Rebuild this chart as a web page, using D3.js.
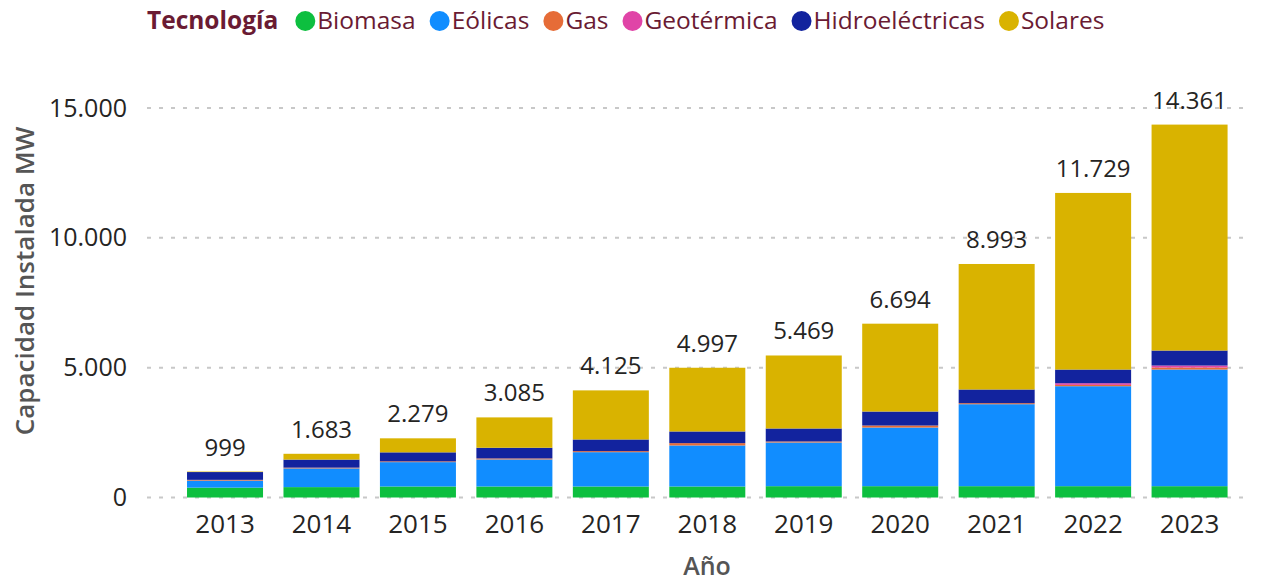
<!DOCTYPE html>
<html><head><meta charset="utf-8">
<script src="https://cdn.jsdelivr.net/npm/d3@7"></script>
<style>
html,body{margin:0;padding:0;background:#fff;}
svg{display:block;font-family:"Segoe UI","Open Sans","Noto Sans",sans-serif;}
</style></head>
<body><svg id="chart" width="1270" height="581"></svg>
<script>
const years = ["2013","2014","2015","2016","2017","2018","2019","2020","2021","2022","2023"];
const technologies = ["Biomasa","Eólicas","Gas","Geotérmica","Hidroeléctricas","Solares"];
const biomasa        = [380, 400, 424, 424, 424, 424, 436, 436, 436, 436, 436];
const eolicas        = [270, 720, 938, 1041, 1322, 1580, 1682, 2259, 3157, 3850, 4492];
const gas            = [30, 30, 30, 40, 40, 90, 40, 77, 40, 50, 77];
const geotermica     = [0, 0, 0, 0, 0, 0, 0, 0, 0, 65, 77];
const hidroelectricas= [300, 310, 347, 411, 449, 449, 500, 539, 526, 526, 578];
const solares        = [19, 223, 540, 1169, 1890, 2454, 2811, 3383, 4834, 6802, 8701];
const yTicks = [0, 5000, 10000, 15000];
const colors = ["#0DBF3F","#118DFF","#E66C37","#E044A7","#12239E","#D9B300"];

const seriesArrays = [biomasa, eolicas, gas, geotermica, hidroelectricas, solares];
const rows = years.map((y,i)=>{
  const r = {year:y};
  technologies.forEach((t,k)=> r[t]=seriesArrays[k][i]);
  return r;
});

const loc = d3.formatLocale({decimal:",", thousands:".", grouping:[3], currency:["",""]});
const fmt = loc.format(",d");

const svg = d3.select("#chart");
const x = d3.scaleBand().domain(years).range([176.8, 1237.8]).paddingInner(0.212).paddingOuter(0.106);
const y = d3.scaleLinear().domain([0,15000]).range([497.5,108]);
const labelColor = "#252423";

// gridlines
svg.append("g").selectAll("line").data(yTicks).join("line")
  .attr("x1",147).attr("x2",1248)
  .attr("y1",d=>y(d)).attr("y2",d=>y(d))
  .attr("stroke","#c8c8c8").attr("stroke-width",2).attr("stroke-dasharray","4,8");

// y axis
const yAxis = svg.append("g").attr("transform","translate(127,0)")
  .call(d3.axisLeft(y).tickValues(yTicks).tickFormat(fmt).tickSize(0).tickPadding(0));
yAxis.select(".domain").remove();
yAxis.selectAll("text").attr("font-size",25).attr("fill",labelColor)
  .attr("font-family","'Segoe UI','Open Sans','Noto Sans',sans-serif");

// x axis
const xAxis = svg.append("g").attr("transform","translate(0,497.5)")
  .call(d3.axisBottom(x).tickSize(0).tickPadding(17));
xAxis.select(".domain").remove();
xAxis.selectAll("text").attr("font-size",26).attr("fill",labelColor)
  .attr("font-family","'Segoe UI','Open Sans','Noto Sans',sans-serif");

// stacked bars
const stack = d3.stack().keys(technologies)(rows);
svg.append("g").selectAll("g").data(stack).join("g")
  .attr("fill",(d,i)=>colors[i])
  .selectAll("rect").data(d=>d).join("rect")
  .attr("x",d=>x(d.data.year))
  .attr("width",x.bandwidth())
  .attr("y",d=>y(d[1]))
  .attr("height",d=>y(d[0])-y(d[1]));

// totals
svg.append("g").selectAll("text").data(rows).join("text")
  .attr("x",d=>x(d.year)+x.bandwidth()/2)
  .attr("y",d=>y(d3.sum(technologies,t=>d[t]))-16)
  .attr("text-anchor","middle").attr("font-size",24).attr("fill",labelColor)
  .text(d=>fmt(d3.sum(technologies,t=>d[t])));

// axis titles
svg.append("text").attr("transform","translate(34,281) rotate(-90)")
  .attr("text-anchor","middle").attr("font-size",26).attr("font-weight",600).attr("fill","#555")
  .text("Capacidad Instalada MW");
svg.append("text").attr("x",707).attr("y",575)
  .attr("text-anchor","middle").attr("font-size",25).attr("font-weight",600).attr("fill","#555")
  .text("Año");

// legend
const legColor = "#6A1B33";
const leg = svg.append("g");
const title = leg.append("text").attr("x",147).attr("y",29).attr("font-size",24.5)
  .attr("font-weight",700).attr("fill",legColor).text("Tecnología");
let cx = 147 + title.node().getComputedTextLength() + 17;
technologies.forEach((t,i)=>{
  leg.append("circle").attr("cx",cx+10).attr("cy",21).attr("r",10).attr("fill",colors[i]);
  const tx = leg.append("text").attr("x",cx+22).attr("y",29).attr("font-size",24.5)
    .attr("fill",legColor).text(t);
  cx = cx + 22 + tx.node().getComputedTextLength() + 14;
});
</script></body></html>
